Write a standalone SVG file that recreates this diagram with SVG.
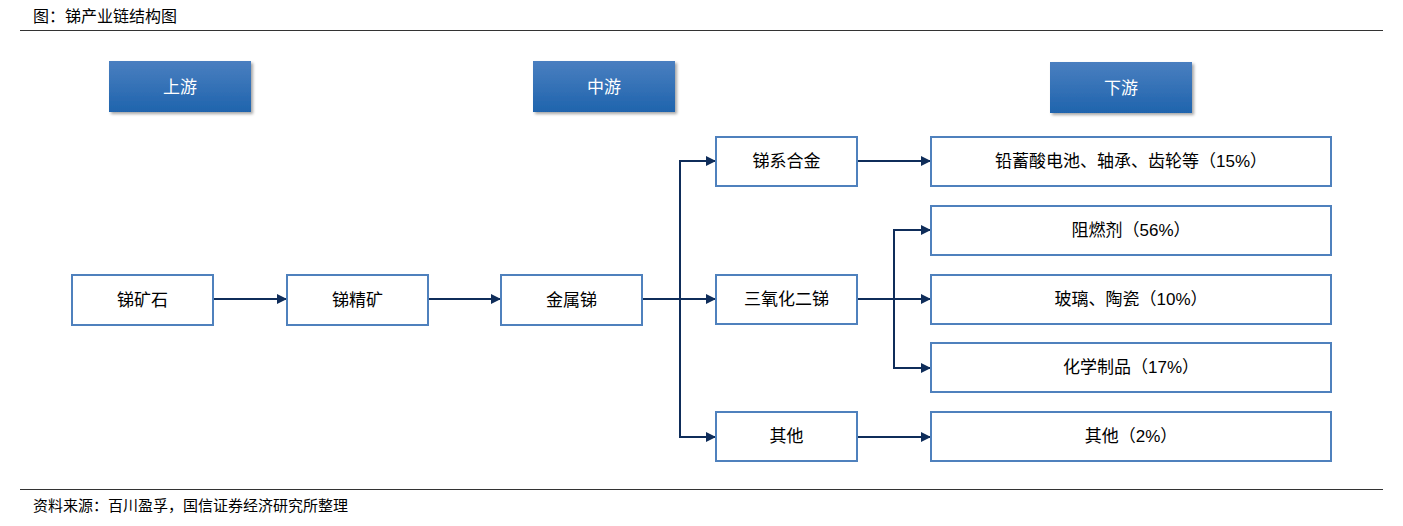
<svg xmlns="http://www.w3.org/2000/svg" width="1403" height="526" viewBox="0 0 1403 526">
<style>
text{font-family:"Liberation Sans","Noto Sans CJK SC",sans-serif;}
.t{font-size:17px;fill:#000;text-anchor:middle;dominant-baseline:central;}
.h{font-size:17px;fill:#fff;text-anchor:middle;dominant-baseline:central;}
.box{fill:#fff;stroke:#4f81bd;stroke-width:2;}
.hb{fill:url(#g);stroke:none;filter:url(#sh);}
.c{fill:none;stroke:#0f2d5a;stroke-width:2;}
.rule{stroke:#333;stroke-width:1.2;}
</style>
<defs>
<linearGradient id="g" x1="0" y1="0" x2="0" y2="1">
<stop offset="0" stop-color="#4a7fc0"/>
<stop offset="1" stop-color="#1f64ad"/>
</linearGradient>
<filter id="sh" x="-10%" y="-10%" width="130%" height="140%">
<feDropShadow dx="2" dy="2" stdDeviation="1.5" flood-color="#000" flood-opacity="0.35"/>
</filter>
<marker id="a" viewBox="0 0 10 10" refX="10" refY="5" markerWidth="10" markerHeight="10" markerUnits="userSpaceOnUse" orient="auto">
<path d="M0,0 L10,5 L0,10 z" fill="#0f2d5a"/>
</marker>
</defs>
<text x="33" y="22" style="font-size:16px">图：锑产业链结构图</text>
<line class="rule" x1="20" y1="30.5" x2="1383" y2="30.5"/>
<line class="rule" x1="20" y1="489.5" x2="1383" y2="489.5"/>
<text x="33" y="511" style="font-size:15px">资料来源：百川盈孚，国信证券经济研究所整理</text>

<g id="hdr-up"><rect class="hb" x="109" y="61" width="142" height="51"/><text class="h" x="180" y="87">上游</text></g>
<g id="hdr-mid"><rect class="hb" x="533" y="61" width="142" height="51"/><text class="h" x="604" y="87">中游</text></g>
<g id="hdr-down"><rect class="hb" x="1050" y="62" width="142" height="51"/><text class="h" x="1121" y="88">下游</text></g>

<g id="connectors">
<line class="c" x1="213" y1="299" x2="287" y2="299" marker-end="url(#a)"/>
<line class="c" x1="428" y1="299" x2="501" y2="299" marker-end="url(#a)"/>
<line class="c" x1="642" y1="299" x2="716" y2="299" marker-end="url(#a)"/>
<polyline class="c" points="716,161 680,161 680,437 716,437"/>
<line class="c" x1="680" y1="161" x2="716" y2="161" marker-end="url(#a)"/>
<line class="c" x1="680" y1="437" x2="716" y2="437" marker-end="url(#a)"/>
<line class="c" x1="857" y1="161" x2="931" y2="161" marker-end="url(#a)"/>
<line class="c" x1="857" y1="299" x2="931" y2="299" marker-end="url(#a)"/>
<polyline class="c" points="931,230 894,230 894,368 931,368"/>
<line class="c" x1="894" y1="230" x2="931" y2="230" marker-end="url(#a)"/>
<line class="c" x1="894" y1="368" x2="931" y2="368" marker-end="url(#a)"/>
<line class="c" x1="857" y1="437" x2="931" y2="437" marker-end="url(#a)"/>
</g>

<g id="n-ore"><rect class="box" x="72" y="275" width="141" height="50"/><text class="t" x="142.5" y="300">锑矿石</text></g>
<g id="n-conc"><rect class="box" x="287" y="275" width="141" height="50"/><text class="t" x="357.5" y="300">锑精矿</text></g>
<g id="n-metal"><rect class="box" x="501" y="275" width="141" height="50"/><text class="t" x="571.5" y="300">金属锑</text></g>
<g id="n-alloy"><rect class="box" x="716" y="137" width="141" height="49"/><text class="t" x="786.5" y="161.5">锑系合金</text></g>
<g id="n-oxide"><rect class="box" x="716" y="275" width="141" height="49"/><text class="t" x="786.5" y="299.5">三氧化二锑</text></g>
<g id="n-other"><rect class="box" x="716" y="412" width="141" height="49"/><text class="t" x="786.5" y="436.5">其他</text></g>
<g id="d-battery"><rect class="box" x="931" y="137" width="400" height="49"/><text class="t" x="1131" y="161.5">铅蓄酸电池、轴承、齿轮等（15%）</text></g>
<g id="d-flame"><rect class="box" x="931" y="206" width="400" height="49"/><text class="t" x="1131" y="230.5">阻燃剂（56%）</text></g>
<g id="d-glass"><rect class="box" x="931" y="275" width="400" height="49"/><text class="t" x="1131" y="299.5">玻璃、陶瓷（10%）</text></g>
<g id="d-chem"><rect class="box" x="931" y="343" width="400" height="49"/><text class="t" x="1131" y="367.5">化学制品（17%）</text></g>
<g id="d-other"><rect class="box" x="931" y="412" width="400" height="49"/><text class="t" x="1131" y="436.5">其他（2%）</text></g>
</svg>
